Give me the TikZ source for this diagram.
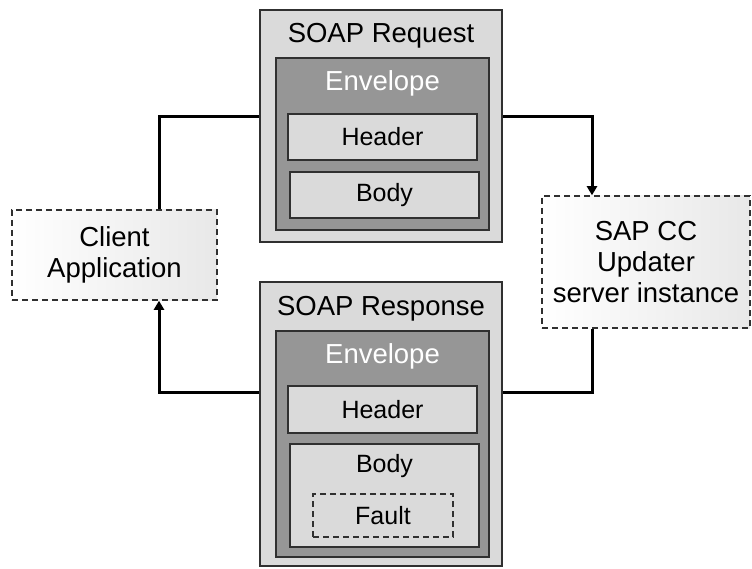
\documentclass[tikz,border=0pt]{standalone}
\usepackage{fontspec}
\setmainfont{Liberation Sans}
\usetikzlibrary{arrows.meta}
\definecolor{lightbox}{HTML}{DADADA}
\definecolor{envgray}{HTML}{969696}
\definecolor{edge}{HTML}{303030}
\begin{document}
\begin{tikzpicture}[x=1pt,y=-1pt,
  box/.style={draw=edge,line width=1.5pt,rectangle,inner sep=0pt},
  outerbox/.style={box,fill=lightbox},
  envbox/.style={box,fill=envgray},
  partbox/.style={box,fill=lightbox,font=\fontsize{25}{29}\selectfont},
  dashbox/.style={draw=edge,line width=1.5pt,dash pattern=on 6pt off 4pt,rectangle,inner sep=0pt,left color=white,right color=gray!18,align=center,font=\fontsize{27.5}{31}\selectfont},
  title/.style={font=\fontsize{27.5}{31}\selectfont,inner sep=0pt},
  conn/.style={line width=3pt,black},
  arr/.style={conn,-{Triangle[length=9pt,width=10pt]}}
]
\useasboundingbox (0,0) rectangle (752,569);
% SOAP Request
\node[outerbox,minimum width=242pt,minimum height=232pt] (req) at (381,126) {};
\node[title] (reqt) at (381,36) {SOAP Request};
\node[envbox,minimum width=213pt,minimum height=172pt] (reqenv) at (382.5,144) {};
\node[title,text=white] (reqenvt) at (382.5,83) {Envelope};
\node[partbox,minimum width=189pt,minimum height=46pt] (reqhead) at (382.5,137) {Header};
\node[partbox,minimum width=189pt,minimum height=46pt] (reqbody) at (384.5,195) {Body};
% SOAP Response
\node[outerbox,minimum width=242pt,minimum height=284pt] (res) at (381,424) {};
\node[title] (rest) at (381,309) {SOAP Response};
\node[envbox,minimum width=213pt,minimum height=226pt] (resenv) at (382.5,444) {};
\node[title,text=white] (resenvt) at (382.5,356) {Envelope};
\node[partbox,minimum width=189pt,minimum height=47pt] (reshead) at (382.5,409.5) {Header};
\node[box,fill=lightbox,minimum width=189pt,minimum height=103pt] (resbody) at (384.5,495.5) {};
\node[font=\fontsize{25}{29}\selectfont,inner sep=0pt] (resbodyt) at (384.5,466) {Body};
\node[box,dash pattern=on 6pt off 4pt,fill=lightbox,minimum width=140pt,minimum height=43pt,font=\fontsize{25}{29}\selectfont] (fault) at (383,515.5) {Fault};
% Endpoints
\node[dashbox,minimum width=205pt,minimum height=90pt] (client) at (114.5,255) {Client\\Application};
\node[dashbox,minimum width=208pt,minimum height=132pt] (sap) at (646,262) {SAP CC\\Updater\\server instance};
% Connectors
\draw[conn] (client.north -| 159,0) |- (req.west |- 0,117);
\draw[arr] (req.east |- 0,117) -| (sap.north -| 592,0);
\draw[conn] (sap.south -| 592,0) |- (res.east |- 0,392);
\draw[arr] (res.west |- 0,392) -| (client.south -| 159,0);
\end{tikzpicture}
\end{document}
